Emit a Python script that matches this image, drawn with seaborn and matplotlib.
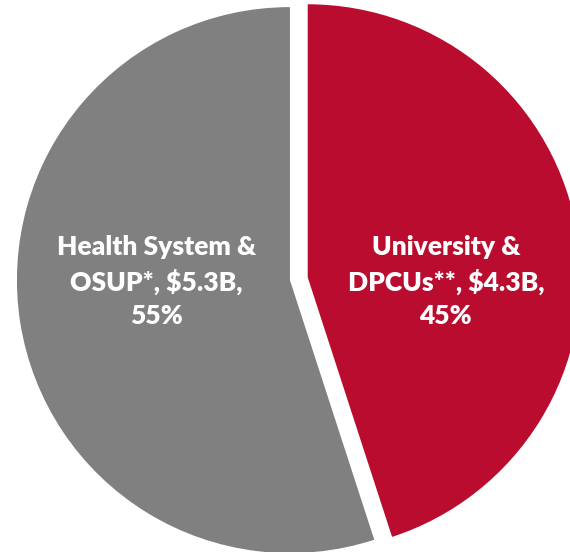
import matplotlib
matplotlib.use("Agg")
import matplotlib.pyplot as plt
import seaborn as sns

categories = ["University &\nDPCUs**", "Health System &\nOSUP*"]
amounts = ["$4.3B", "$5.3B"]
shares = [45, 55]
colors = ["#BA0C2F", "#808080"]

sns.set_theme(style="white")
plt.rcParams["font.family"] = ["Lato", "DejaVu Sans"]

fig = plt.figure(figsize=(5.70, 5.52), dpi=100)
ax = fig.add_axes([0, 0, 1, 1])
ax.pie(shares, colors=colors, startangle=90, counterclock=False,
       explode=[0.066, 0], radius=1.0,
       wedgeprops=dict(linewidth=0))
ax.set_aspect("equal")
ax.set_xlim(-1.062, 1.026)
ax.set_ylim(-0.996, 1.026)
ax.axis("off")

label_pos = [(0.571, -0.005), (-0.49, -0.005)]
for cat, amt, sh, (x, y) in zip(categories, amounts, shares, label_pos):
    top, bottom = cat.split("\n")
    txt = f"{top}\n{bottom}, {amt},\n{sh}%"
    ax.text(x, y, txt, ha="center", va="center", color="white",
            fontsize=19, fontweight="heavy", linespacing=1.46)

fig.savefig("out.png", dpi=100)
